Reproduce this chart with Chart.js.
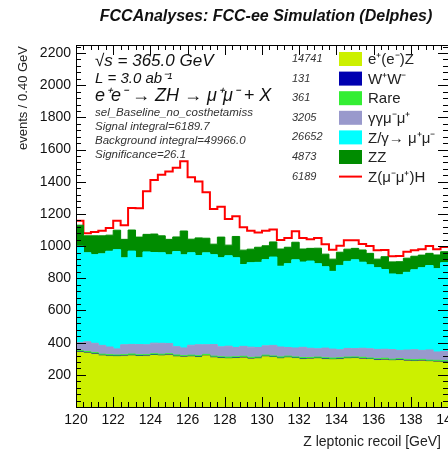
<!DOCTYPE html>
<html>
<head>
<meta charset="utf-8">
<script src="https://cdn.jsdelivr.net/npm/chart.js@4.4.1/dist/chart.umd.min.js"></script>
<style>
  html, body { margin: 0; padding: 0; background: #fff; overflow: hidden; }
  #plot { display: block; }
</style>
</head>
<body>
<canvas id="plot" width="470" height="450" style="width:470px;height:450px"></canvas>
<script>
// histogram binning: 50 bins of 0.4 GeV between 120 and 140
const binLow = 120, binHigh = 140, binWidth = 0.4;
const xTicks = [120, 122, 124, 126, 128, 130, 132, 134, 136, 138, 140];

// bin contents per process (events / 0.40 GeV)
const eeZ = [340,335,328,318,315, 313,316,318,314,316, 320,318,322,312,310, 312,308,318,306,302,
             300,302,305,298,300, 312,308,300,306,302, 296,298,300,296,294, 296,300,302,298,295,
             290,292,288,290,286, 284,286,282,280,278];
const ww = [3,2,3,3,2, 3,2,3,3,2, 3,3,2,3,2, 3,3,2,3,3, 2,3,3,2,3, 3,2,3,3,2, 3,2,3,3,2, 3,3,2,3,2,
            3,3,2,3,3, 2,3,2,3,2];
const rare = [7,8,7,7,8, 7,7,8,7,7, 8,7,7,8,7, 7,8,7,7,7, 8,7,7,8,7, 7,7,8,7,7, 8,7,7,7,8, 7,7,7,8,7,
              7,8,7,7,7, 8,7,7,7,8];
const ggmumu = [50,60,58,55,48, 38,62,60,64,62, 66,68,64,52,48, 62,68,60,72,62, 68,58,62,64,60,
                58,66,62,54,56, 64,58,52,60,56, 50,54,52,56,58, 58,56,60,52,58, 62,56,64,52,58];
const zgamma = [599,554,551,569,595, 617,540,580,540,577, 563,563,551,591,579, 575,554,571,559,554,
                562,558,508,525,529, 536,549,502,521,548, 530,542,529,506,483, 524,541,552,535,522,
                508,495,470,470,483, 497,514,524,518,551];
const zz = [131,105,117,112,100, 121,115,131,128,109, 115,105,96,91,148, 84,110,91,65,128,
            66,132,90,84,94, 86,94,107,102,109, 81,79,96,78,76, 82,76,71,76,71,
            53,80,75,81,88, 84,78,76,85,68];
const zh = [27,16,23,31,44, 58,87,137,180,268, 336,379,422,430,433, 385,350,285,218,188,
            162,126,143,114,92, 93,78,56,57,68, 69,56,63,62,58, 40,56,50,37,46,
            56,42,35,35,40, 38,37,46,36,30];

// legend
const procNames = ['e\u207A(e\u207B)Z', 'W\u207AW\u207B', 'Rare', '\u03B3\u03B3\u03BC\u207B\u03BC\u207A',
                   'Z/\u03B3\u2192 \u03BC\u207A\u03BC\u207B', 'ZZ', 'Z(\u03BC\u207B\u03BC\u207A)H'];
const procCounts = ['14741', '131', '361', '3205', '26652', '4873', '6189'];
const procColors = ['#ccf000', '#0000b0', '#33ee33', '#9999cc', '#00ffff', '#008c00', '#ff0000'];

const labelLines = ['sel_Baseline_no_costhetamiss', 'Signal integral=6189.7',
                    'Background integral=49966.0', 'Significance=26.1'];

const FONT = '"Liberation Sans", Arial, Helvetica, sans-serif';

// turn bin contents into step points on the bin edges
function toSteps(arr) {
  const pts = arr.map((v, i) => ({ x: +(binLow + i * binWidth).toFixed(1), y: v }));
  pts.push({ x: binHigh, y: arr[arr.length - 1] });
  return pts;
}

function layer(data, i, fill) {
  return {
    label: procNames[i],
    data: toSteps(data),
    stepped: true,
    fill: fill,
    backgroundColor: procColors[i],
    borderColor: procColors[i],
    borderWidth: 1,
    pointRadius: 0,
  };
}

const frameAndText = {
  id: 'frameAndText',
  afterDraw(chart) {
    const ctx = chart.ctx;
    const a = chart.chartArea;
    const xs = chart.scales.x, ys = chart.scales.y;
    ctx.save();
    ctx.strokeStyle = '#000';
    ctx.lineWidth = 1;
    ctx.strokeRect(a.left + 0.5, a.top + 0.5, a.right - a.left, a.bottom - a.top);

    // ROOT style ticks inside the frame, on all four sides
    ctx.beginPath();
    for (let k = 0; k <= 50; k++) {
      const v = binLow + k * binWidth;
      const px = Math.round(xs.getPixelForValue(v)) + 0.5;
      const len = (k % 5 === 0) ? 10 : 5;
      ctx.moveTo(px, a.bottom); ctx.lineTo(px, a.bottom - len);
      ctx.moveTo(px, a.top); ctx.lineTo(px, a.top + len);
    }
    for (let v = 0; v <= ys.max; v += 40) {
      const py = Math.round(ys.getPixelForValue(v)) + 0.5;
      const len = (v % 200 === 0) ? 10 : 5;
      ctx.moveTo(a.left, py); ctx.lineTo(a.left + len, py);
      ctx.moveTo(a.right, py); ctx.lineTo(a.right - len, py);
    }
    ctx.stroke();

    // title
    ctx.fillStyle = '#111';
    ctx.font = 'italic bold 16px ' + FONT;
    ctx.textAlign = 'center';
    ctx.textBaseline = 'alphabetic';
    ctx.fillText('FCCAnalyses: FCC-ee Simulation (Delphes)', 266, 21);

    // axis titles
    ctx.font = '14px ' + FONT;
    ctx.textAlign = 'right';
    ctx.fillStyle = '#222';
    ctx.fillText('Z leptonic recoil [GeV]', 441, 446);
    ctx.save();
    ctx.translate(27, 46);
    ctx.rotate(-Math.PI / 2);
    ctx.font = '13px ' + FONT;
    ctx.textAlign = 'right';
    ctx.fillText('events / 0.40 GeV', 0, 0);
    ctx.restore();

    // annotations
    ctx.textAlign = 'left';
    ctx.fillStyle = '#111';
    ctx.font = 'italic 17px ' + FONT;
    ctx.fillText('\u221As = 365.0 GeV', 95, 66);
    ctx.font = 'italic 15px ' + FONT;
    ctx.fillText('L = 3.0 ab\u207B\u00B9', 95, 83);
    ctx.font = 'italic 18px ' + FONT;
    ctx.fillText('e\u207Ae\u207B \u2192 ZH \u2192 \u03BC\u207A\u03BC\u207B + X', 95, 101);
    ctx.font = 'italic 11.5px ' + FONT;
    ctx.fillStyle = '#333';
    labelLines.forEach((t, i) => ctx.fillText(t, 95, 116 + i * 14));

    // legend
    procNames.forEach((name, i) => {
      const yc = 59 + i * 19.6;
      ctx.fillStyle = '#333';
      ctx.font = 'italic 11px ' + FONT;
      ctx.textBaseline = 'middle';
      ctx.fillText(procCounts[i], 292, yc);
      if (i === procNames.length - 1) {
        ctx.strokeStyle = procColors[i];
        ctx.lineWidth = 2;
        ctx.beginPath();
        ctx.moveTo(339, yc); ctx.lineTo(362, yc);
        ctx.stroke();
      } else {
        ctx.fillStyle = procColors[i];
        ctx.fillRect(339, yc - 7, 23, 14);
      }
      ctx.fillStyle = '#222';
      ctx.font = '15px ' + FONT;
      ctx.fillText(name, 368, yc + 1);
    });
    ctx.restore();
  }
};

new Chart(document.getElementById('plot'), {
  type: 'line',
  data: {
    datasets: [
      layer(eeZ, 0, 'origin'),
      layer(ww, 1, '-1'),
      layer(rare, 2, '-1'),
      layer(ggmumu, 3, '-1'),
      layer(zgamma, 4, '-1'),
      layer(zz, 5, '-1'),
      {
        label: procNames[6],
        data: toSteps(zh),
        stepped: true,
        fill: false,
        borderColor: procColors[6],
        borderWidth: 2,
        pointRadius: 0,
      },
    ],
  },
  options: {
    responsive: false,
    animation: false,
    devicePixelRatio: 1,
    layout: { padding: { left: 0, top: 45, right: 22, bottom: 0 } },
    plugins: { legend: { display: false }, tooltip: { enabled: false } },
    scales: {
      x: {
        type: 'linear',
        min: binLow,
        max: binHigh,
        afterBuildTicks: (s) => { s.ticks = xTicks.map(v => ({ value: v })); },
        ticks: { font: { family: FONT, size: 14 }, color: '#111', padding: 5, maxRotation: 0, autoSkip: false },
        grid: { display: false, drawTicks: false },
        border: { display: false },
        afterFit: (s) => { s.height = 43; },
      },
      y: {
        stacked: true,
        min: 0,
        max: 2250,
        ticks: {
          stepSize: 200,
          includeBounds: false,
          callback: (v) => (v === 0 ? '' : String(v)),
          font: { family: FONT, size: 14 },
          color: '#111',
          padding: 5,
        },
        grid: { display: false, drawTicks: false },
        border: { display: false },
        afterFit: (s) => { s.width = 76; },
      },
    },
  },
  plugins: [frameAndText],
});
</script>
</body>
</html>
